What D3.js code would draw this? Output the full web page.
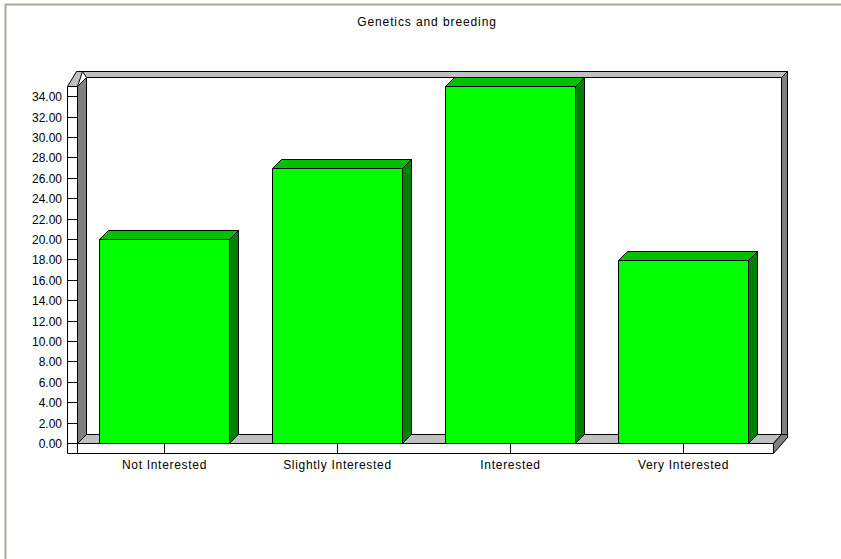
<!DOCTYPE html>
<html><head><meta charset="utf-8">
<script src="https://cdn.jsdelivr.net/npm/d3@7"></script>
<style>
html,body{margin:0;padding:0;background:#fff;}
text{font-family:"Liberation Sans",Arial,sans-serif;fill:#000;}
</style></head>
<body>
<svg id="c" width="841" height="559"></svg>
<script>
const title = "Genetics and breeding";
const categories = ["Not Interested","Slightly Interested","Interested","Very Interested"];
const values = [20, 27, 35, 17.9];
const yTicks = d3.range(0, 35, 2);

const svg = d3.select("#c");
const W = 841, H = 559;
const x0 = 77, x1 = 773, yZero = 443, yTop = 86;
const d = 9;      // depth offset
const t = 6;      // wall thickness
const floorH = 10;

const x = d3.scaleBand().domain(categories).range([x0, 770]).paddingInner(0.25).paddingOuter(0.125);
const y = d3.scaleLinear().domain([0, 35]).range([yZero, yTop]);

// page frame
svg.append("line").attr("x1",5).attr("x2",W).attr("y1",4.5).attr("y2",4.5).attr("stroke","#aca899").attr("stroke-width",2);
svg.append("line").attr("x1",5.5).attr("x2",5.5).attr("y1",4).attr("y2",H).attr("stroke","#aca899").attr("stroke-width",2);

// title
svg.append("text").attr("x",427).attr("y",26).attr("text-anchor","middle").style("font-size","12px").style("letter-spacing","0.9px").text(title);

const g = svg.append("g");
const poly = (pts, fill) => g.append("polygon").attr("points", pts.map(p=>p.join(",")).join(" "))
  .attr("fill", fill).attr("stroke","#000").attr("stroke-width",1).attr("stroke-linejoin","miter");

const yT = y(35), yB = y(0);
const bx0 = x0 + d + 0.5, bx1 = x1 + d - 0.5, by0 = yT - d + 0.5, by1 = yB - d + 0.5;
// back wall top face
poly([[bx0 - 4, by0 - t],[bx1 + t, by0 - t],[bx1, by0],[bx0, by0]], "#c0c0c0");
// back wall right face
poly([[bx1, by0],[bx1 + t, by0 - t],[bx1 + t, by1 + 3],[bx1, by1 + 9]], "#808080");
// back wall front face
poly([[bx0, by0],[bx1, by0],[bx1, by1],[bx0, by1]], "#ffffff");

// left wall
const lx0 = 67.5, lx1 = x0 + 0.5;
poly([[lx0, yT + 0.5],[bx0 - 4 - 6, by0 - t],[bx0 - 4, by0 - t],[lx1, yT + 0.5]], "#c0c0c0");
poly([[lx1, yT + 0.5],[bx0, by0],[bx0, by1],[lx1, yB + 0.5]], "#808080");
poly([[lx0, yT + 0.5],[lx1, yT + 0.5],[lx1, yB + floorH + 0.5],[lx0, yB + floorH + 0.5]], "#ffffff");

// floor
const fy = yB + 0.5;
poly([[lx1, fy],[bx0, by1],[bx1, by1],[x1 + 0.5, fy]], "#c0c0c0");
poly([[x1 + 0.5, fy],[bx1, by1],[bx1 + t, by1],[bx1 + t, by1 + 3],[x1 + 0.5, fy + floorH]], "#808080");
poly([[lx1, fy],[x1 + 0.5, fy],[x1 + 0.5, fy + floorH],[lx1, fy + floorH]], "#ffffff");

// y ticks on left wall front
yTicks.forEach(v => {
  const yy = Math.round(y(v)) + 0.5;
  g.append("line").attr("x1", lx0).attr("x2", lx1).attr("y1", yy).attr("y2", yy).attr("stroke","#000");
  g.append("text").attr("x", 62).attr("y", yy + 4).attr("text-anchor","end").style("font-size","12px").text(v.toFixed(2));
});

// x ticks on floor front
categories.forEach(c => {
  const cx = Math.round(x(c) + x.bandwidth()/2) + 0.5;
  g.append("line").attr("x1", cx).attr("x2", cx).attr("y1", fy).attr("y2", fy + floorH).attr("stroke","#000");
  g.append("text").attr("x", cx).attr("y", yB + 26).attr("text-anchor","middle").style("font-size","12px").style("letter-spacing","0.7px").text(c);
});

// bars
categories.forEach((c, i) => {
  const bx = Math.round(x(c)) + 0.5, bw = Math.round(x.bandwidth());
  const top = Math.round(y(values[i])) + 0.5, bot = yB + 0.5;
  poly([[bx, top],[bx + d, top - d],[bx + bw + d, top - d],[bx + bw, top]], "#00c000");
  poly([[bx + bw, top],[bx + bw + d, top - d],[bx + bw + d, bot - d],[bx + bw, bot]], "#008000");
  poly([[bx, top],[bx + bw, top],[bx + bw, bot],[bx, bot]], "#00ff00");
});
</script>
</body></html>
